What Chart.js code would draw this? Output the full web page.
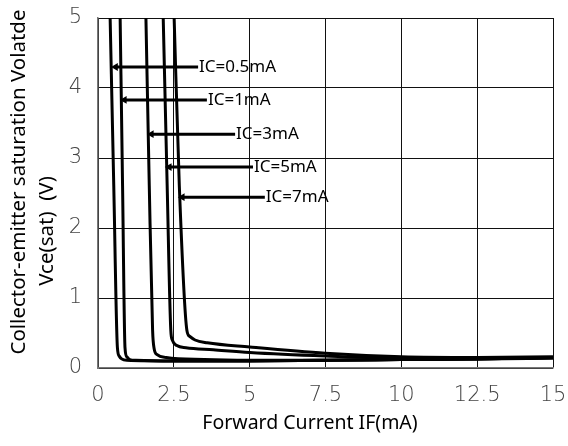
<!DOCTYPE html>
<html><head><meta charset="utf-8">
<script src="https://cdn.jsdelivr.net/npm/chart.js@4/dist/chart.umd.min.js"></script>
<style>html,body{margin:0;padding:0;background:#fff}#wrap{width:568px;height:446px;position:relative}</style>
</head><body><div id="wrap"><canvas id="c"></canvas></div>
<script>
const xTicks=[0,2.5,5,7.5,10,12.5,15];
const yTicks=[0,1,2,3,4,5];
const ic05X=[0.40,0.52,0.64,0.70,0.78,0.95,2.5,5,7.5,10,12.5,15];
const ic05Y=[5,2.6,0.29,0.17,0.13,0.11,0.10,0.10,0.11,0.12,0.13,0.14];
const ic1X=[0.73,0.81,0.89,0.95,1.05,1.25,2.5,5,7.5,10,12.5,15];
const ic1Y=[5,2.6,0.29,0.16,0.12,0.11,0.10,0.10,0.11,0.12,0.13,0.15];
const ic3X=[1.58,1.69,1.80,1.85,1.95,2.25,3.5,5,7.5,10,12.5,15];
const ic3Y=[5,2.61,0.54,0.28,0.19,0.15,0.12,0.11,0.11,0.12,0.13,0.15];
const ic5X=[2.15,2.28,2.40,2.45,2.6,2.9,3.8,5,7.5,10,12.5,15];
const ic5Y=[5,2.61,0.54,0.40,0.32,0.29,0.26,0.22,0.17,0.14,0.14,0.15];
const ic7X=[2.51,2.68,2.93,3.03,3.2,3.6,5,7.5,10,12.5,15];
const ic7Y=[5,2.61,0.54,0.45,0.40,0.36,0.30,0.21,0.16,0.15,0.16];
const arrowY=[4.3,3.83,3.34,2.87,2.44];
const arrowStartX=[0.58,0.87,1.76,2.35,2.78];
const arrowEndX=[3.30,3.59,4.52,5.11,5.5];
const arrowLabels=['IC=0.5mA','IC=1mA','IC=3mA','IC=5mA','IC=7mA'];
const xTitle='Forward Current IF(mA)';
const yTitle=['Collector-emitter saturation Volatde','Vce(sat)  (V)'];

const pts=(xs,ys)=>xs.map((x,i)=>({x:x,y:ys[i]}));
const curves=[[ic05X,ic05Y],[ic1X,ic1Y],[ic3X,ic3Y],[ic5X,ic5Y],[ic7X,ic7Y]];
const datasets=curves.map(c=>({data:pts(c[0],c[1]),borderColor:'#000',borderWidth:3,pointRadius:0,showLine:true,cubicInterpolationMode:'monotone',fill:false}));
arrowY.forEach((y,i)=>{
  datasets.push({data:[{x:arrowStartX[i],y:y},{x:arrowEndX[i],y:y}],borderColor:'#000',backgroundColor:'#000',borderWidth:3,showLine:true,
    pointStyle:'triangle',pointRadius:[4.5,0],pointRotation:270,pointBorderWidth:0});
});

const textPlugin={id:'texts',afterDatasetsDraw(chart){
  const ctx=chart.ctx,xs=chart.scales.x,ys=chart.scales.y;
  ctx.save();ctx.fillStyle='#000';
  ctx.font='17px "Noto Sans"';ctx.textBaseline='middle';ctx.textAlign='left';
  arrowLabels.forEach((t,i)=>ctx.fillText(t,xs.getPixelForValue(arrowEndX[i])+1,ys.getPixelForValue(arrowY[i])));
  ctx.textAlign='center';
  ctx.font='19.5px "Noto Sans"';
  ctx.fillText(xTitle,310,423);
  ctx.font='20.5px "Noto Sans"';
  ctx.save();ctx.translate(19,182);ctx.rotate(-Math.PI/2);ctx.fillText(yTitle[0],0,0);ctx.restore();
  ctx.save();ctx.translate(47,231);ctx.rotate(-Math.PI/2);ctx.fillText(yTitle[1],0,0);ctx.restore();
  ctx.restore();
}};

const tickFont={family:'"DejaVu Sans"',size:21,weight:'200'};
new Chart(document.getElementById('c'),{
  type:'scatter',
  data:{datasets:datasets},
  options:{
    responsive:true,maintainAspectRatio:false,animation:false,events:[],
    layout:{padding:{top:18,right:15,left:0,bottom:0}},
    plugins:{legend:{display:false},tooltip:{enabled:false}},
    scales:{
      x:{type:'linear',min:0,max:15,
        afterBuildTicks:s=>{s.ticks=xTicks.map(v=>({value:v}));},
        afterFit:s=>{s.height=78;s.paddingLeft=0;s.paddingRight=0;},
        ticks:{font:tickFont,color:'#444',padding:15,maxRotation:0,callback:v=>String(v)},
        grid:{color:'#111',lineWidth:1,drawTicks:false},
        border:{color:'#777',width:1.5}},
      y:{type:'linear',min:0,max:5,
        afterBuildTicks:s=>{s.ticks=yTicks.map(v=>({value:v}));},
        afterFit:s=>{s.width=98;s.paddingTop=0;s.paddingBottom=0;},
        ticks:{font:tickFont,color:'#444',padding:16,callback:v=>String(v)},
        grid:{color:'#111',lineWidth:1,drawTicks:false},
        border:{color:'#777',width:1.5}}
    }
  },
  plugins:[textPlugin]
});
</script></body></html>
